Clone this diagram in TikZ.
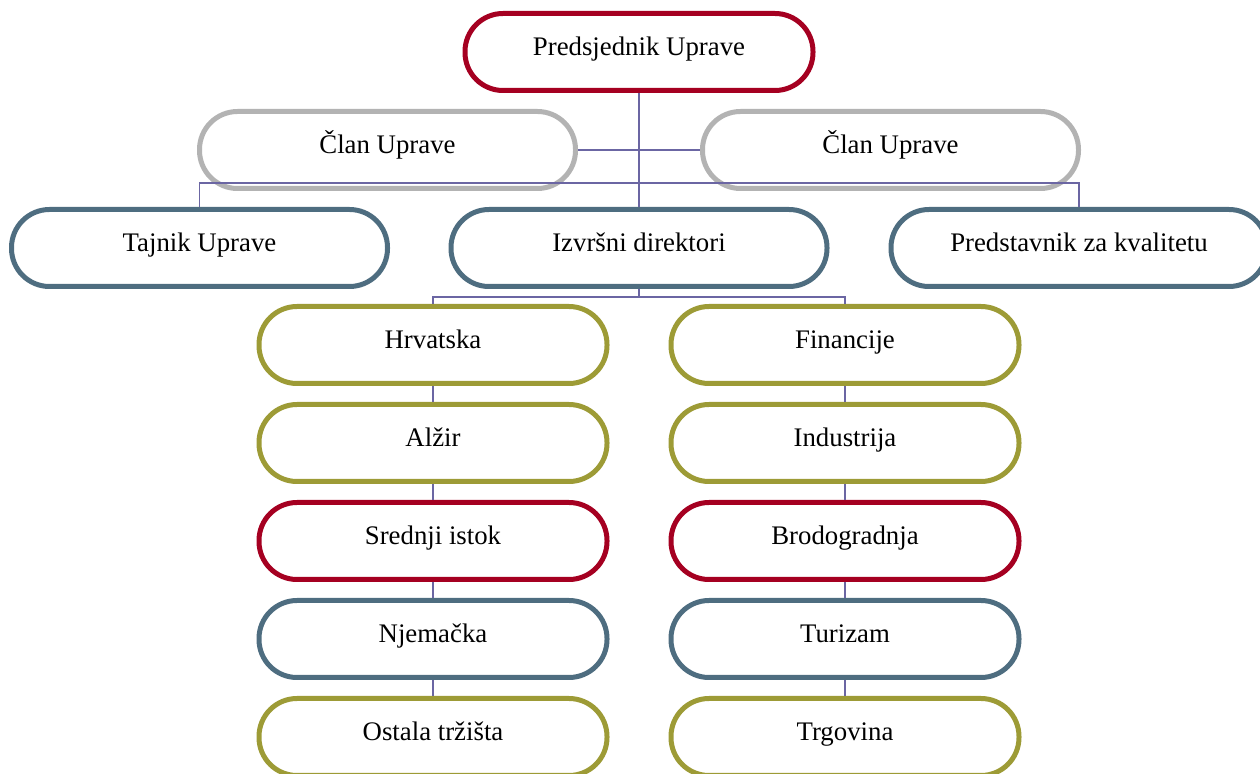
\documentclass[tikz,border=0pt]{standalone}
\usepackage{fontspec}
\setmainfont{Liberation Serif}
\usetikzlibrary{positioning}
\definecolor{boxred}{HTML}{A50021}
\definecolor{boxgray}{HTML}{B3B3B3}
\definecolor{boxblue}{HTML}{4E6D80}
\definecolor{boxolive}{HTML}{9D9B36}
\definecolor{linkcol}{HTML}{6B66A3}
\tikzset{
  box/.style={draw, line width=2.5pt, rounded corners=19pt,
    minimum height=38.5pt, minimum width=188pt, inner sep=0pt,
    text height=10pt, text depth=6pt, font=\fontsize{13.4}{16}\selectfont},
  colbox/.style={box, minimum width=174pt},
  link/.style={draw=linkcol, line width=0.75pt},
}

\begin{document}
\begin{tikzpicture}[x=0.5pt, y=-0.5pt]

  \newcommand\dY{98}
  \newcommand\Lx{433}
  \newcommand\Rx{845}

  \useasboundingbox (0,0) rectangle (1260,774);

  % top
  \node[colbox, draw=boxred] (pred) at (639, 52) {Predsjednik Uprave};
  \node[box, draw=boxgray] (clanL) at (387.5, 150) {Član Uprave};
  \node[box, draw=boxgray] (clanR) at (890.5, 150) {Član Uprave};

  \node[box, draw=boxblue] (tajnik) at (199.5, 248) {Tajnik Uprave};
  \node[box, draw=boxblue] (izvrsni) at (639, 248) {Izvršni direktori};
  \node[box, draw=boxblue] (predst) at (1079, 248) {Predstavnik za kvalitetu};

  % left column
  \node[colbox, draw=boxolive] (hrv) at (\Lx, 345) {Hrvatska};
  \node[colbox, draw=boxolive] (alz) at (\Lx, 345+\dY) {Alžir};
  \node[colbox, draw=boxred] (istok) at (\Lx, 345+2*\dY) {Srednji istok};
  \node[colbox, draw=boxblue] (njem) at (\Lx, 345+3*\dY) {Njemačka};
  \node[colbox, draw=boxolive] (ostala) at (\Lx, 345+4*\dY) {Ostala tržišta};

  % right column
  \node[colbox, draw=boxolive] (fin) at (\Rx, 345) {Financije};
  \node[colbox, draw=boxolive] (ind) at (\Rx, 345+\dY) {Industrija};
  \node[colbox, draw=boxred] (brod) at (\Rx, 345+2*\dY) {Brodogradnja};
  \node[colbox, draw=boxblue] (tur) at (\Rx, 345+3*\dY) {Turizam};
  \node[colbox, draw=boxolive] (trg) at (\Rx, 345+4*\dY) {Trgovina};

  \coordinate (jTop) at (639, 183);
  \coordinate (jBot) at (639, 297);

  \draw[link] (pred.south) -- (izvrsni.north);
  \draw[link] (clanL.east) -- (clanR.west);
  \draw[link] (tajnik.north) |- (jTop) -| (predst.north);
  \draw[link] (izvrsni.south) -- (jBot);
  \draw[link] (hrv.north) |- (jBot) -| (fin.north);

  \draw[link] (hrv.south) -- (alz.north);
  \draw[link] (alz.south) -- (istok.north);
  \draw[link] (istok.south) -- (njem.north);
  \draw[link] (njem.south) -- (ostala.north);

  \draw[link] (fin.south) -- (ind.north);
  \draw[link] (ind.south) -- (brod.north);
  \draw[link] (brod.south) -- (tur.north);
  \draw[link] (tur.south) -- (trg.north);

\end{tikzpicture}
\end{document}
